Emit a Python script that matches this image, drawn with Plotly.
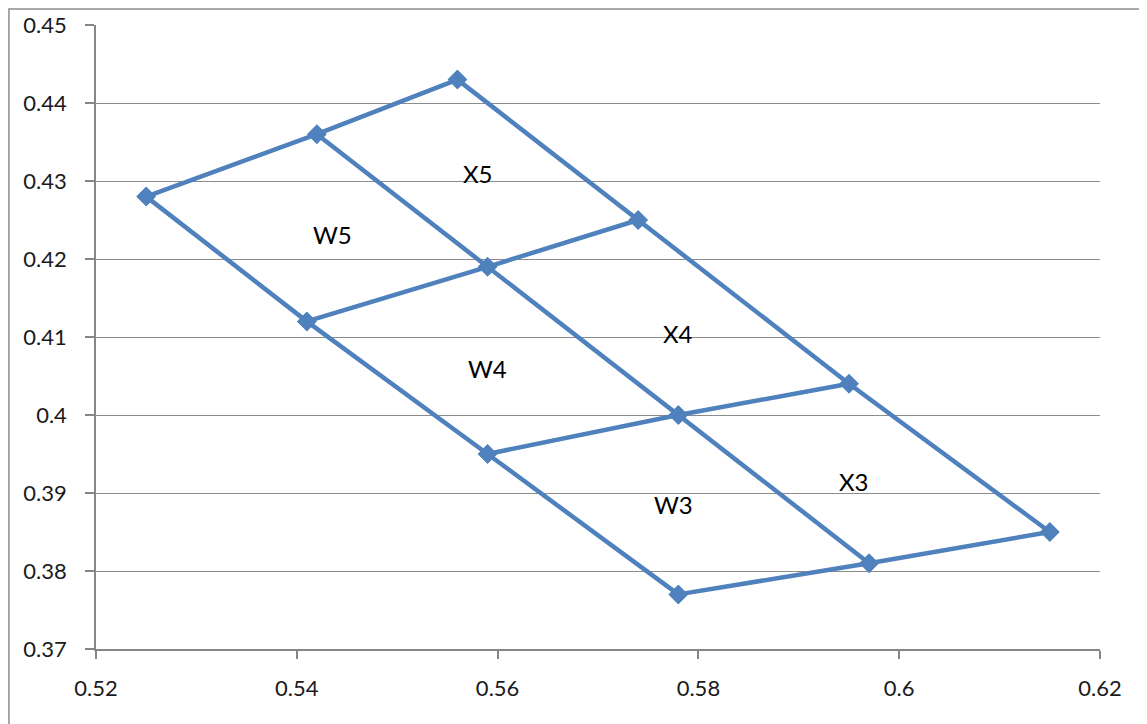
import plotly.graph_objects as go

# Grid node columns (top to bottom)
left_x = [0.525, 0.541, 0.559, 0.578]
left_y = [0.428, 0.412, 0.395, 0.377]
mid_x = [0.542, 0.559, 0.578, 0.597]
mid_y = [0.436, 0.419, 0.400, 0.381]
right_x = [0.556, 0.574, 0.595, 0.615]
right_y = [0.443, 0.425, 0.404, 0.385]

# Region labels
label_text = ["W5", "X5", "W4", "X4", "W3", "X3"]
label_x = [0.5436, 0.5580, 0.5590, 0.5780, 0.5775, 0.5955]
label_y = [0.4231, 0.4310, 0.4060, 0.4105, 0.3885, 0.3915]

# Axis ticks
x_ticks = [0.52, 0.54, 0.56, 0.58, 0.60, 0.62]
x_tick_text = ["0.52", "0.54", "0.56", "0.58", "0.6", "0.62"]
y_ticks = [0.37, 0.38, 0.39, 0.40, 0.41, 0.42, 0.43, 0.44, 0.45]
y_tick_text = ["0.37", "0.38", "0.39", "0.4", "0.41", "0.42", "0.43", "0.44", "0.45"]

BLUE = "#4F81BD"
FONT = "Lato"

fig = go.Figure()

line_style = dict(color=BLUE, width=4.5)
marker_style = dict(symbol="diamond", size=15, color=BLUE)

for xs, ys in [(left_x, left_y), (mid_x, mid_y), (right_x, right_y)]:
    fig.add_trace(go.Scatter(x=xs, y=ys, mode="lines+markers",
                             line=line_style, marker=marker_style,
                             showlegend=False, hoverinfo="x+y"))

for i in range(len(left_x)):
    fig.add_trace(go.Scatter(x=[left_x[i], mid_x[i], right_x[i]],
                             y=[left_y[i], mid_y[i], right_y[i]],
                             mode="lines+markers",
                             line=line_style, marker=marker_style,
                             showlegend=False, hoverinfo="x+y"))

for t, x, y in zip(label_text, label_x, label_y):
    fig.add_annotation(x=x, y=y, text=t, showarrow=False,
                       font=dict(family=FONT, size=24, color="#000000"))

# outer chart border (cropped at right and bottom)
fig.add_shape(type="rect", xref="paper", yref="paper",
              x0=-0.0867, x1=1.2, y0=-0.2, y1=1.0256,
              line=dict(color="#8c8c8c", width=1.5), layer="below")

fig.update_layout(
    width=1147, height=724,
    margin=dict(l=88, r=55, t=17, b=83, autoexpand=False),
    paper_bgcolor="white", plot_bgcolor="white",
    font=dict(family=FONT, size=22, color="#1a1a1a"),
)
fig.update_xaxes(range=[0.52, 0.62], tickvals=x_ticks, ticktext=x_tick_text,
                 automargin=False,
                 showgrid=False, zeroline=False, showline=True,
                 linecolor="#868686", linewidth=1.5,
                 ticks="outside", ticklen=8, tickcolor="#868686", tickwidth=1.5,
                 ticklabelstandoff=11,
                 tickfont=dict(family=FONT, size=22))
fig.update_yaxes(range=[0.37, 0.45], tickvals=y_ticks, ticktext=y_tick_text,
                 automargin=False,
                 showgrid=True, gridcolor="#8c8c8c", gridwidth=1.2,
                 zeroline=False, showline=True,
                 linecolor="#868686", linewidth=1.5,
                 ticks="outside", ticklen=9, tickcolor="#868686", tickwidth=1.5,
                 ticklabelstandoff=14,
                 tickfont=dict(family=FONT, size=22))

fig.write_html("out.html")
